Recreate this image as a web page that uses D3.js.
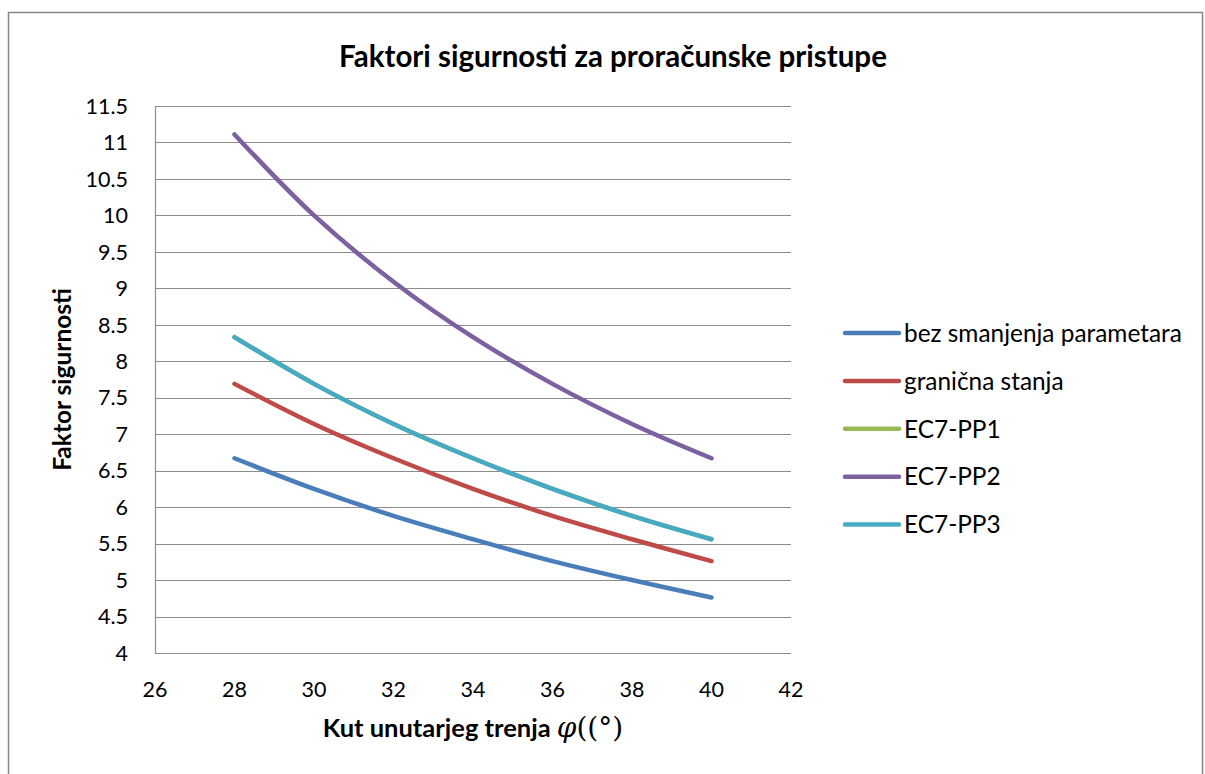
<!DOCTYPE html>
<html>
<head>
<meta charset="utf-8">
<script src="https://cdn.jsdelivr.net/npm/d3@7"></script>
<style>
  body { margin: 0; background: #fff; }
  svg { display: block; font-family: Lato, "Open Sans", sans-serif; }
</style>
</head>
<body>
<div id="chart"></div>
<script>
// ---------------- data ----------------
const phi = [28, 30, 32, 34, 36, 38, 40];
const bezSmanjenja = [6.67, 6.25, 5.88, 5.56, 5.26, 5.00, 4.76];
const granicnaStanja = [7.69, 7.14, 6.67, 6.25, 5.88, 5.56, 5.26];
const ec7pp1 = [8.33, 7.69, 7.14, 6.67, 6.25, 5.88, 5.56];
const ec7pp2 = [11.11, 10.0, 9.09, 8.33, 7.69, 7.14, 6.67];
const ec7pp3 = [8.33, 7.69, 7.14, 6.67, 6.25, 5.88, 5.56];

const seriesNames = ["bez smanjenja parametara", "granična stanja", "EC7-PP1", "EC7-PP2", "EC7-PP3"];
const seriesColors = ["#4a7ebb", "#be4b48", "#98b954", "#7d60a0", "#46aac5"];
const seriesValues = [bezSmanjenja, granicnaStanja, ec7pp1, ec7pp2, ec7pp3];

const xTicks = [26, 28, 30, 32, 34, 36, 38, 40, 42];
const yTicks = d3.range(4, 11.51, 0.5);

// ---------------- layout ----------------
const width = 1205, height = 774;
const plot = { left: 155, right: 791, top: 106, bottom: 653 };

const svg = d3.select("#chart").append("svg")
  .attr("width", width)
  .attr("height", height);

// chart frame
svg.append("rect")
  .attr("x", 8.5).attr("y", 12.5)
  .attr("width", 1194).attr("height", 800)
  .attr("fill", "#fff")
  .attr("stroke", "#868686")
  .attr("stroke-width", 1.5);

// ---------------- scales ----------------
const x = d3.scaleLinear().domain([26, 42]).range([plot.left, plot.right]);
const y = d3.scaleLinear().domain([4, 11.5]).range([plot.bottom, plot.top]);

// gridlines
svg.append("g")
  .selectAll("line")
  .data(yTicks)
  .join("line")
  .attr("x1", plot.left).attr("x2", plot.right)
  .attr("y1", d => Math.round(y(d)) + 0.5)
  .attr("y2", d => Math.round(y(d)) + 0.5)
  .attr("stroke", "#8c8c8c")
  .attr("stroke-width", 1.2);

// left axis line
svg.append("line")
  .attr("x1", plot.left + 0.5).attr("x2", plot.left + 0.5)
  .attr("y1", plot.top).attr("y2", plot.bottom + 1)
  .attr("stroke", "#8c8c8c")
  .attr("stroke-width", 1.2);

// y tick labels
svg.append("g")
  .selectAll("text")
  .data(yTicks)
  .join("text")
  .attr("x", 128)
  .attr("y", d => y(d))
  .attr("dy", "0.36em")
  .attr("text-anchor", "end")
  .attr("font-size", 21.5)
  .attr("fill", "#000")
  .text(d => d3.format("")(d));

// x tick labels
svg.append("g")
  .selectAll("text")
  .data(xTicks)
  .join("text")
  .attr("x", d => x(d))
  .attr("y", 689)
  .attr("dy", "0.36em")
  .attr("text-anchor", "middle")
  .attr("font-size", 21.5)
  .attr("fill", "#000")
  .text(d => d);

// ---------------- lines ----------------
const line = d3.line()
  .x((d, i) => x(phi[i]))
  .y(d => y(d))
  .curve(d3.curveCatmullRom.alpha(0.5));

svg.append("g")
  .selectAll("path")
  .data(seriesValues)
  .join("path")
  .attr("d", d => line(d))
  .attr("fill", "none")
  .attr("stroke", (d, i) => seriesColors[i])
  .attr("stroke-width", 4.5)
  .attr("stroke-linecap", "round")
  .attr("stroke-linejoin", "round");

// ---------------- titles ----------------
svg.append("text")
  .attr("x", 613).attr("y", 57)
  .attr("dy", "0.35em")
  .attr("text-anchor", "middle")
  .attr("font-size", 29.5)
  .attr("font-weight", "bold")
  .text("Faktori sigurnosti za proračunske pristupe");

svg.append("text")
  .attr("transform", "translate(62," + ((plot.top + plot.bottom) / 2) + ") rotate(-90)")
  .attr("dy", "0.35em")
  .attr("text-anchor", "middle")
  .attr("font-size", 24.5)
  .attr("font-weight", "bold")
  .text("Faktor sigurnosti");

const xTitle = svg.append("text")
  .attr("x", (plot.left + plot.right) / 2)
  .attr("y", 728)
  .attr("dy", "0.35em")
  .attr("text-anchor", "middle")
  .attr("font-size", 25.5)
  .attr("font-weight", "bold");
xTitle.append("tspan").text("Kut unutarjeg trenja ");
xTitle.append("tspan")
  .attr("font-family", "'DejaVu Serif', serif")
  .attr("font-style", "italic")
  .attr("font-weight", "normal")
  .attr("font-size", 28)
  .text("φ");
xTitle.append("tspan")
  .attr("font-family", "'DejaVu Serif', serif")
  .attr("font-weight", "normal")
  .attr("font-size", 28)
  .text("((°)");

// ---------------- legend ----------------
const legend = svg.append("g")
  .selectAll("g")
  .data(seriesNames)
  .join("g")
  .attr("transform", (d, i) => `translate(845, ${333 + i * 47.9})`);

legend.append("line")
  .attr("x1", 0).attr("x2", 54)
  .attr("stroke", (d, i) => seriesColors[i])
  .attr("stroke-width", 4.5)
  .attr("stroke-linecap", "round");

legend.append("text")
  .attr("x", 59)
  .attr("dy", "0.36em")
  .attr("font-size", 24.4)
  .text(d => d);
</script>
</body>
</html>
